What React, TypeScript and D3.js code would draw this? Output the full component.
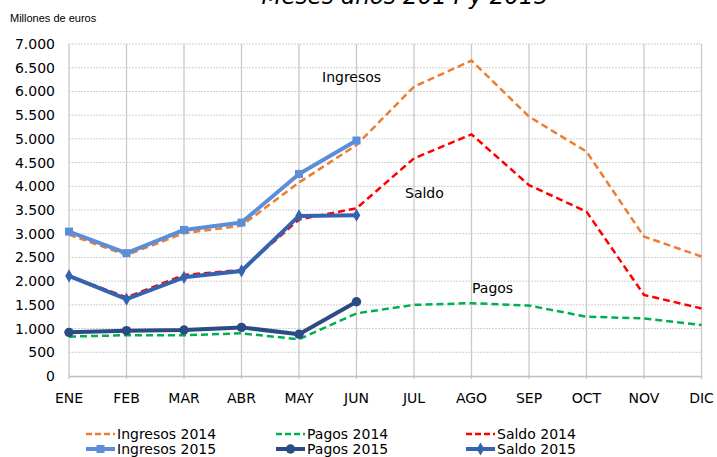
import React, { useEffect, useRef } from "react";
import * as d3 from "d3";

const months = ["ENE", "FEB", "MAR", "ABR", "MAY", "JUN", "JUL", "AGO", "SEP", "OCT", "NOV", "DIC"];
const yTicks = [0, 500, 1000, 1500, 2000, 2500, 3000, 3500, 4000, 4500, 5000, 5500, 6000, 6500, 7000];

const ingresos2014 = [2980, 2550, 3010, 3170, 4080, 4870, 6100, 6650, 5470, 4730, 2940, 2520];
const pagos2014 = [830, 860, 860, 900, 775, 1320, 1500, 1535, 1485, 1250, 1215, 1075];
const saldo2014 = [2110, 1660, 2130, 2235, 3300, 3535, 4590, 5095, 4025, 3465, 1710, 1425];
const ingresos2015 = [3045, 2590, 3080, 3235, 4260, 4965];
const pagos2015 = [920, 955, 970, 1025, 880, 1565];
const saldo2015 = [2110, 1620, 2080, 2215, 3375, 3390];

const fmt = (v: number) => (v >= 1000 ? `${Math.floor(v / 1000)}.${String(v % 1000).padStart(3, "0")}` : String(v));

function App() {
  const svgRef = useRef<SVGSVGElement>(null);

  useEffect(() => {
    if (!svgRef.current) return;
    const width = 717;
    const height = 457;
    const svg = d3.select(svgRef.current).attr("width", width).attr("height", height);
    svg.selectAll("*").remove();

    const x = d3.scalePoint<string>().domain(months).range([69, 701.5]);
    const y = d3.scaleLinear().domain([0, 7000]).range([376, 44]);
    const font = "DejaVu Sans, Verdana, sans-serif";

    // title (clipped at top)
    svg.append("text")
      .attr("x", 405).attr("y", 4)
      .attr("text-anchor", "middle")
      .attr("font-family", font).attr("font-style", "italic")
      .attr("font-size", 23).attr("fill", "#000")
      .text("Meses años 2014 y 2015");

    svg.append("text")
      .attr("x", 10).attr("y", 22)
      .attr("font-family", "Liberation Sans, Arial, sans-serif")
      .attr("font-size", 11).attr("fill", "#000")
      .text("Millones de euros");

    // grid
    const g = svg.append("g");
    g.selectAll("line.h").data(yTicks.slice(1)).join("line")
      .attr("x1", 69).attr("x2", 701.5)
      .attr("y1", (d) => y(d)).attr("y2", (d) => y(d))
      .attr("stroke", "#d0d0d0").attr("stroke-width", 1)
      .attr("stroke-dasharray", "2,1");
    g.selectAll("line.v").data(months).join("line")
      .attr("x1", (d) => x(d)!).attr("x2", (d) => x(d)!)
      .attr("y1", 44).attr("y2", 379)
      .attr("stroke", "#c8c8c8").attr("stroke-width", 1.3);
    g.append("line")
      .attr("x1", 69).attr("x2", 701.5).attr("y1", 376.5).attr("y2", 376.5)
      .attr("stroke", "#bfbfbf").attr("stroke-width", 1.5);

    // y tick labels
    svg.append("g").selectAll("text").data(yTicks).join("text")
      .attr("x", 55).attr("y", (d) => y(d) + 5)
      .attr("text-anchor", "end")
      .attr("font-family", font).attr("font-size", 14).attr("fill", "#000")
      .text((d) => fmt(d));

    // x tick labels
    svg.append("g").selectAll("text").data(months).join("text")
      .attr("x", (d) => x(d)!).attr("y", 403)
      .attr("text-anchor", "middle")
      .attr("font-family", font).attr("font-size", 14).attr("fill", "#000")
      .text((d) => d);

    const line = d3.line<number>().x((_, i) => x(months[i])!).y((d) => y(d));

    const dashed = [
      { data: ingresos2014, color: "#ED7D31" },
      { data: pagos2014, color: "#00B050" },
      { data: saldo2014, color: "#FF0000" },
    ];
    dashed.forEach((s) => {
      svg.append("path").datum(s.data)
        .attr("d", line).attr("fill", "none")
        .attr("stroke", s.color).attr("stroke-width", 2.5)
        .attr("stroke-dasharray", "7,4");
    });

    const solid = [
      { data: ingresos2015, color: "#5B8DD8", marker: "square" },
      { data: saldo2015, color: "#3563B0", marker: "diamond" },
      { data: pagos2015, color: "#2B4B84", marker: "circle" },
    ];
    solid.forEach((s) => {
      svg.append("path").datum(s.data)
        .attr("d", line).attr("fill", "none")
        .attr("stroke", s.color).attr("stroke-width", 4)
        .attr("stroke-linejoin", "round");
      const sym = s.marker === "square" ? d3.symbolSquare : s.marker === "diamond" ? d3.symbolDiamond : d3.symbolCircle;
      const size = s.marker === "square" ? 64 : s.marker === "diamond" ? 50 : 70;
      svg.append("g").selectAll("path").data(s.data).join("path")
        .attr("transform", (d, i) => `translate(${x(months[i])},${y(d)})`)
        .attr("d", d3.symbol().type(sym).size(size)!)
        .attr("fill", s.color);
    });

    // annotations
    const notes = [
      { t: "Ingresos", x: 322, y: 82 },
      { t: "Saldo", x: 405, y: 198 },
      { t: "Pagos", x: 472, y: 293 },
    ];
    svg.append("g").selectAll("text").data(notes).join("text")
      .attr("x", (d) => d.x).attr("y", (d) => d.y)
      .attr("font-family", font).attr("font-size", 14).attr("fill", "#000")
      .text((d) => d.t);

    // legend
    const legend = [
      { t: "Ingresos 2014", color: "#ED7D31", dash: true, x: 86, y: 434, marker: "" },
      { t: "Pagos 2014", color: "#00B050", dash: true, x: 276, y: 434, marker: "" },
      { t: "Saldo 2014", color: "#FF0000", dash: true, x: 466, y: 434, marker: "" },
      { t: "Ingresos 2015", color: "#5B8DD8", dash: false, x: 86, y: 449, marker: "square" },
      { t: "Pagos 2015", color: "#2B4B84", dash: false, x: 276, y: 449, marker: "circle" },
      { t: "Saldo 2015", color: "#3563B0", dash: false, x: 466, y: 449, marker: "diamond" },
    ];
    legend.forEach((l) => {
      const lg = svg.append("g");
      lg.append("line")
        .attr("x1", l.x).attr("x2", l.x + 29).attr("y1", l.y).attr("y2", l.y)
        .attr("stroke", l.color).attr("stroke-width", l.dash ? 2.5 : 4)
        .attr("stroke-dasharray", l.dash ? "6,3" : null);
      if (l.marker) {
        const sym = l.marker === "square" ? d3.symbolSquare : l.marker === "diamond" ? d3.symbolDiamond : d3.symbolCircle;
        lg.append("path")
          .attr("transform", `translate(${l.x + 14.5},${l.y})`)
          .attr("d", d3.symbol().type(sym).size(l.marker === "square" ? 64 : l.marker === "diamond" ? 50 : 70)!)
          .attr("fill", l.color);
      }
      lg.append("text")
        .attr("x", l.x + 31).attr("y", l.y + 5)
        .attr("font-family", font).attr("font-size", 14).attr("fill", "#000")
        .text(l.t);
    });
  }, []);

  return (
    <div style={{ position: "fixed", left: 0, top: 0, width: 717, height: 457, overflow: "hidden", background: "#fff" }}>
      <svg ref={svgRef} style={{ display: "block" }} />
    </div>
  );
}

export default App;
